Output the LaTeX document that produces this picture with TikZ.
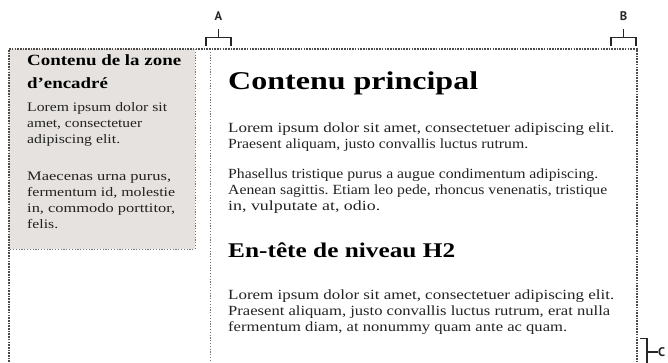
\documentclass[tikz,border=0pt]{standalone}
\usepackage{fontspec}
\usepackage{graphicx}
\newfontfamily\txt[FakeStretch=1.21]{Liberation Serif}
\newfontfamily\lab{PT Sans}
\newcommand\fitw[2]{\resizebox{#1pt}{\height}{#2}}
\definecolor{sidefill}{HTML}{E6E2DF}
\definecolor{bodytext}{HTML}{222222}
\begin{document}
\frenchspacing
\begin{tikzpicture}[x=1pt,y=-1pt,
  frame/.style={draw=black!70, line width=1.6pt, dash pattern=on 1.6pt off 1.1pt},
  innerline/.style={draw=black!55, line width=0.9pt, dash pattern=on 1.2pt off 1.6pt},
  brk/.style={draw=black!85, line width=1.1pt},
  lbl/.style={font=\lab\bfseries\fontsize{12.5}{14}\selectfont, text=black!85, inner sep=0},
  hone/.style={anchor=base west, inner sep=0, font=\txt\bfseries\fontsize{25.6}{28}\selectfont},
  htwo/.style={anchor=base west, inner sep=0, font=\txt\bfseries\fontsize{20.9}{24}\selectfont},
  hside/.style={anchor=base west, inner sep=0, font=\txt\bfseries\fontsize{15.6}{18}\selectfont},
  mainbody/.style={anchor=base west, inner sep=0, text=bodytext, font=\txt\fontsize{14}{16}\selectfont},
  sidebody/.style={anchor=base west, inner sep=0, text=bodytext, font=\txt\fontsize{13}{15}\selectfont}
]
\useasboundingbox (0,0) rectangle (668,362);
% sidebar
\fill[sidefill] (9,49) rectangle (195,249);
\draw[innerline] (195,49) -- (195,249) -- (9,249);
% main column left edge
\draw[innerline] (210.5,49) -- (210.5,362);
% outer frame
\draw[frame] (9,362) -- (9,49) -- (637,49) -- (637,362);

% sidebar text
\node[hside] (s1) at (27,65) {\fitw{154}{Contenu de la zone}};
\node[hside] (s2) at (27,88) {d’encadré};
\node[sidebody] (s3) at (27,111) {\fitw{140}{Lorem ipsum dolor sit}};
\node[sidebody] (s4) at (27,127) {\fitw{115}{amet, consectetuer}};
\node[sidebody] (s5) at (27,143) {\fitw{93}{adipiscing elit.}};
\node[sidebody] (s6) at (27,180) {\fitw{144}{Maecenas urna purus,}};
\node[sidebody] (s7) at (27,196) {\fitw{148}{fermentum id, molestie}};
\node[sidebody] (s8) at (27,212) {\fitw{148}{in, commodo porttitor,}};
\node[sidebody] (s9) at (27,228) {felis.};

% main text
\node[hone] (m1) at (228,89) {\fitw{250}{Contenu principal}};
\node[mainbody] (m2) at (228,132) {\fitw{386}{Lorem ipsum dolor sit amet, consectetuer adipiscing elit.}};
\node[mainbody] (m3) at (228,148) {\fitw{300}{Praesent aliquam, justo convallis luctus rutrum.}};
\node[mainbody] (m4) at (228,178) {\fitw{370}{Phasellus tristique purus a augue condimentum adipiscing.}};
\node[mainbody] (m5) at (228,194) {\fitw{379}{Aenean sagittis. Etiam leo pede, rhoncus venenatis, tristique}};
\node[mainbody] (m6) at (228,210) {\fitw{152}{in, vulputate at, odio.}};
\node[htwo] (m7) at (228,257) {\fitw{227}{En-tête de niveau H2}};
\node[mainbody] (m8) at (228,299) {\fitw{386}{Lorem ipsum dolor sit amet, consectetuer adipiscing elit.}};
\node[mainbody] (m9) at (228,315) {\fitw{382}{Praesent aliquam, justo convallis luctus rutrum, erat nulla}};
\node[mainbody] (m10) at (228,331) {\fitw{339}{fermentum diam, at nonummy quam ante ac quam.}};

% bracket A
\coordinate (a1) at (206,46);
\coordinate (a2) at (206,37.5);
\coordinate (a3) at (231,37.5);
\coordinate (a4) at (231,46);
\coordinate (am) at (218.5,37.5);
\node[lbl] (la) at (218.5,16) {A};
\draw[brk] (a1) -- (a2) -- (a3) -- (a4);
\draw[brk] (am) -- (la.south |- 0,29);
% bracket B
\coordinate (b1) at (611,46);
\coordinate (b2) at (611,37.5);
\coordinate (b3) at (636,37.5);
\coordinate (b4) at (636,46);
\coordinate (bm) at (623.5,37.5);
\node[lbl] (lb) at (623.5,16) {B};
\draw[brk] (b1) -- (b2) -- (b3) -- (b4);
\draw[brk] (bm) -- (lb.south |- 0,29);
% bracket C
\coordinate (c1) at (640,338.5);
\coordinate (c2) at (647,338.5);
\coordinate (c3) at (647,366);
\coordinate (cm) at (647,352);
\node[lbl, anchor=west] (lc) at (658,352) {C};
\draw[brk] (c1) -- (c2) -- (c3);
\draw[brk] (cm) -- (lc.west);
\end{tikzpicture}
\end{document}
